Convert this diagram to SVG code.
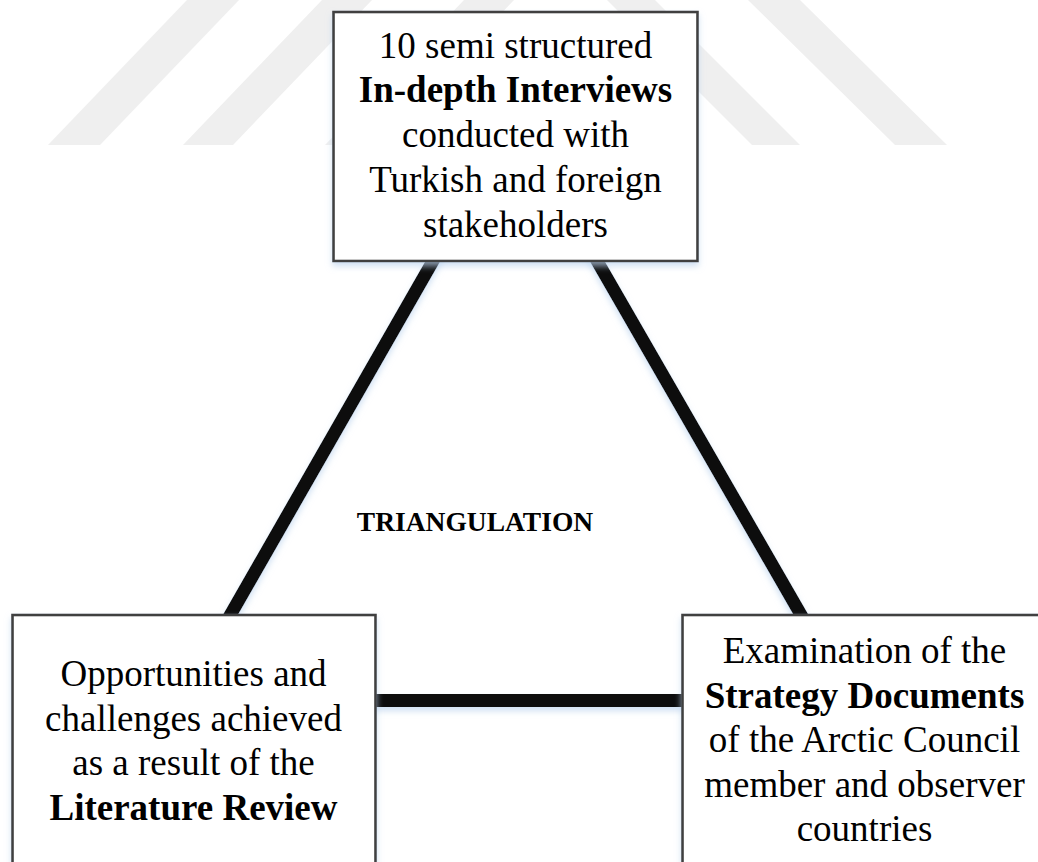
<svg xmlns="http://www.w3.org/2000/svg" width="1038" height="862" viewBox="0 0 1038 862">
<defs>
<style>
.wm{fill:#efefef}
.conn{stroke:#0d0d0d;stroke-width:13;stroke-linecap:butt;fill:none}
.box{fill:#ffffff;stroke:#404040;stroke-width:2.6}
.t{font-family:"Liberation Serif","Times New Roman",serif;font-size:37px;fill:#000;text-anchor:middle}
.b{font-weight:bold}
.c{font-family:"Liberation Serif","Times New Roman",serif;font-size:27.5px;font-weight:bold;fill:#000;text-anchor:middle}
</style>
<filter id="sh" x="-10%" y="-10%" width="120%" height="130%">
<feDropShadow dx="0" dy="4" stdDeviation="3" flood-color="#bcd3ee" flood-opacity="0.7"/>
</filter>
</defs>
<g id="watermark">
<polygon class="wm" points="48,145 100,145 239,0 187,0"/>
<polygon class="wm" points="183,145 233,145 372,0 322,0"/>
<polygon class="wm" points="325,145 375,145 514,0 464,0"/>
<polygon class="wm" points="752,145 800,145 655,0 607,0"/>
<polygon class="wm" points="895,145 947,145 800,0 748,0"/>
</g>
<g id="connectors" filter="url(#sh)">
<line class="conn" x1="445" y1="240" x2="216" y2="640"/>
<line class="conn" x1="585" y1="240" x2="815.5" y2="640"/>
<line class="conn" x1="370" y1="700.5" x2="690" y2="700.5"/>
</g>
<g id="node-interviews">
<rect class="box" x="333.5" y="12" width="364" height="249" filter="url(#sh)"/>
<text class="t" x="515.5" y="57.5">10 semi structured</text>
<text class="t b" x="515.5" y="102.3">In-depth Interviews</text>
<text class="t" x="515.5" y="147">conducted with</text>
<text class="t" x="515.5" y="191.8">Turkish and foreign</text>
<text class="t" x="515.5" y="236.5">stakeholders</text>
</g>
<g id="node-literature">
<rect class="box" x="12.5" y="615" width="363" height="270" filter="url(#sh)"/>
<text class="t" x="193.5" y="686">Opportunities and</text>
<text class="t" x="193.5" y="730.7">challenges achieved</text>
<text class="t" x="193.5" y="775.4">as a result of the</text>
<text class="t b" x="193.5" y="820">Literature Review</text>
</g>
<g id="node-strategy">
<rect class="box" x="682.5" y="615" width="364" height="270" filter="url(#sh)"/>
<text class="t" x="864.5" y="663">Examination of the</text>
<text class="t b" x="864.5" y="707.5">Strategy Documents</text>
<text class="t" x="864.5" y="752">of the Arctic Council</text>
<text class="t" x="864.5" y="796.5">member and observer</text>
<text class="t" x="864.5" y="841">countries</text>
</g>
<g id="label-center">
<text class="c" x="475" y="531">TRIANGULATION</text>
</g>
</svg>
